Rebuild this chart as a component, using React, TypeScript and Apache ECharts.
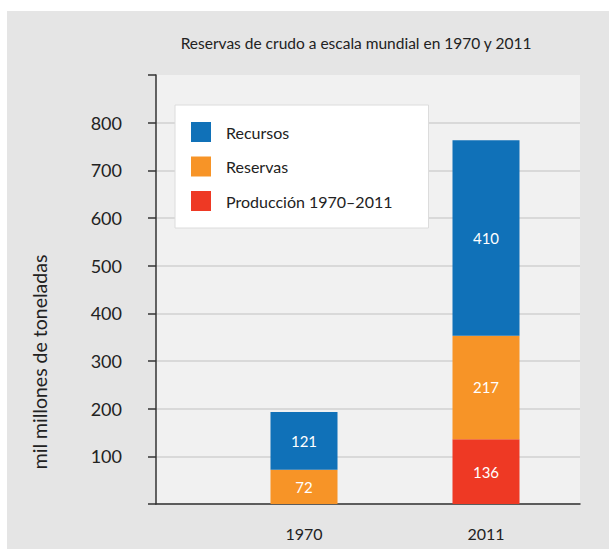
import React, { useEffect, useRef } from "react";
import * as echarts from "echarts";

const years = ["1970", "2011"];
const produccion: (number | null)[] = [null, 136];
const reservas = [72, 217];
const recursos = [121, 410];
const yTicks = [0, 100, 200, 300, 400, 500, 600, 700, 800, 900];
const titleText = "Reservas de crudo a escala mundial en 1970 y 2011";
const yName = "mil millones de toneladas";
const legendNames = ["Recursos", "Reservas", "Producción 1970–2011"];

const FONT = "Lato, 'Open Sans', sans-serif";
const BLUE = "#1071b8";
const ORANGE = "#f79427";
const RED = "#ee3924";

export default function App() {
  const ref = useRef<HTMLDivElement>(null);
  useEffect(() => {
    if (!ref.current) return;
    const chart = echarts.init(ref.current, undefined, { renderer: "svg" });
    const yMin = yTicks[0];
    const yMax = yTicks[yTicks.length - 1];
    const interval = yTicks[1] - yTicks[0];
    const labelStyle = {
      show: true,
      position: "inside",
      color: "#fff",
      fontSize: 15,
      fontFamily: FONT,
    };
    chart.setOption({
      animation: false,
      backgroundColor: "transparent",
      textStyle: { fontFamily: FONT },
      graphic: [
        {
          type: "text",
          x: 356,
          y: 43,
          style: {
            text: titleText,
            fontSize: 15.5,
            fontFamily: FONT,
            fill: "#222",
            align: "center",
            verticalAlign: "middle",
          },
        },
        {
          type: "text",
          x: 39,
          y: 362,
          rotation: Math.PI / 2,
          style: {
            text: yName,
            fontSize: 19.5,
            fontFamily: FONT,
            fill: "#222",
            align: "center",
            verticalAlign: "middle",
          },
        },
      ],
      legend: {
        data: legendNames,
        orient: "vertical",
        left: 175,
        top: 105,
        backgroundColor: "#fff",
        borderColor: "#dcdcdc",
        borderWidth: 1,
        padding: [17, 36, 17, 16],
        itemWidth: 20,
        itemHeight: 20,
        itemGap: 14.5,
        icon: "rect",
        selectedMode: false,
        textStyle: {
          fontSize: 16,
          color: "#222",
          fontFamily: FONT,
          padding: [0, 0, 0, 10],
        },
      },
      grid: [
        {
          left: 156,
          right: 29,
          top: 75,
          bottom: 45,
          show: true,
          backgroundColor: "#f1f1f1",
          borderWidth: 0,
        },
        { left: 213, right: 32, top: 75, bottom: 45 },
      ],
      xAxis: [
        {
          gridIndex: 0,
          type: "value",
          min: 0,
          max: 1,
          axisLine: { show: true, lineStyle: { color: "#333", width: 1.5 } },
          axisTick: { show: false },
          axisLabel: { show: false },
          splitLine: { show: false },
        },
        {
          gridIndex: 1,
          type: "category",
          data: years,
          axisLine: { show: false },
          axisTick: { show: false },
          axisLabel: { fontSize: 16, color: "#222", margin: 21, fontFamily: FONT },
        },
      ],
      yAxis: [
        {
          gridIndex: 0,
          type: "value",
          min: yMin,
          max: yMax,
          interval,
          axisLine: { show: true, lineStyle: { color: "#333", width: 1.5 } },
          axisTick: { show: true, length: 8, lineStyle: { color: "#333", width: 1.5 } },
          axisLabel: {
            fontSize: 18,
            color: "#222",
            margin: 34,
            fontFamily: FONT,
            formatter: (v: number) => (v === yMin || v === yMax ? "" : String(v)),
          },
          splitLine: {
            show: true,
            showMaxLine: false,
            lineStyle: { color: "#d0d0d0", width: 1.5 },
          },
        },
        { gridIndex: 1, type: "value", min: yMin, max: yMax, show: false },
      ],
      series: [
        {
          name: legendNames[2],
          type: "bar",
          stack: "total",
          xAxisIndex: 1,
          yAxisIndex: 1,
          barWidth: 67,
          itemStyle: { color: RED },
          label: labelStyle,
          data: produccion,
        },
        {
          name: legendNames[1],
          type: "bar",
          stack: "total",
          xAxisIndex: 1,
          yAxisIndex: 1,
          barWidth: 67,
          itemStyle: { color: ORANGE },
          label: labelStyle,
          data: reservas,
        },
        {
          name: legendNames[0],
          type: "bar",
          stack: "total",
          xAxisIndex: 1,
          yAxisIndex: 1,
          barWidth: 67,
          itemStyle: { color: BLUE },
          label: labelStyle,
          data: recursos,
        },
      ],
    });
    return () => chart.dispose();
  }, []);

  return (
    <div
      style={{
        position: "fixed",
        left: 0,
        top: 0,
        width: 609,
        height: 549,
        background: "#fff",
      }}
    >
      <div
        style={{
          position: "absolute",
          left: 7,
          top: 11,
          right: 0,
          bottom: 0,
          background: "#e5e5e5",
        }}
      />
      <div
        ref={ref}
        style={{ position: "absolute", left: 0, top: 0, width: 609, height: 549 }}
      />
    </div>
  );
}
